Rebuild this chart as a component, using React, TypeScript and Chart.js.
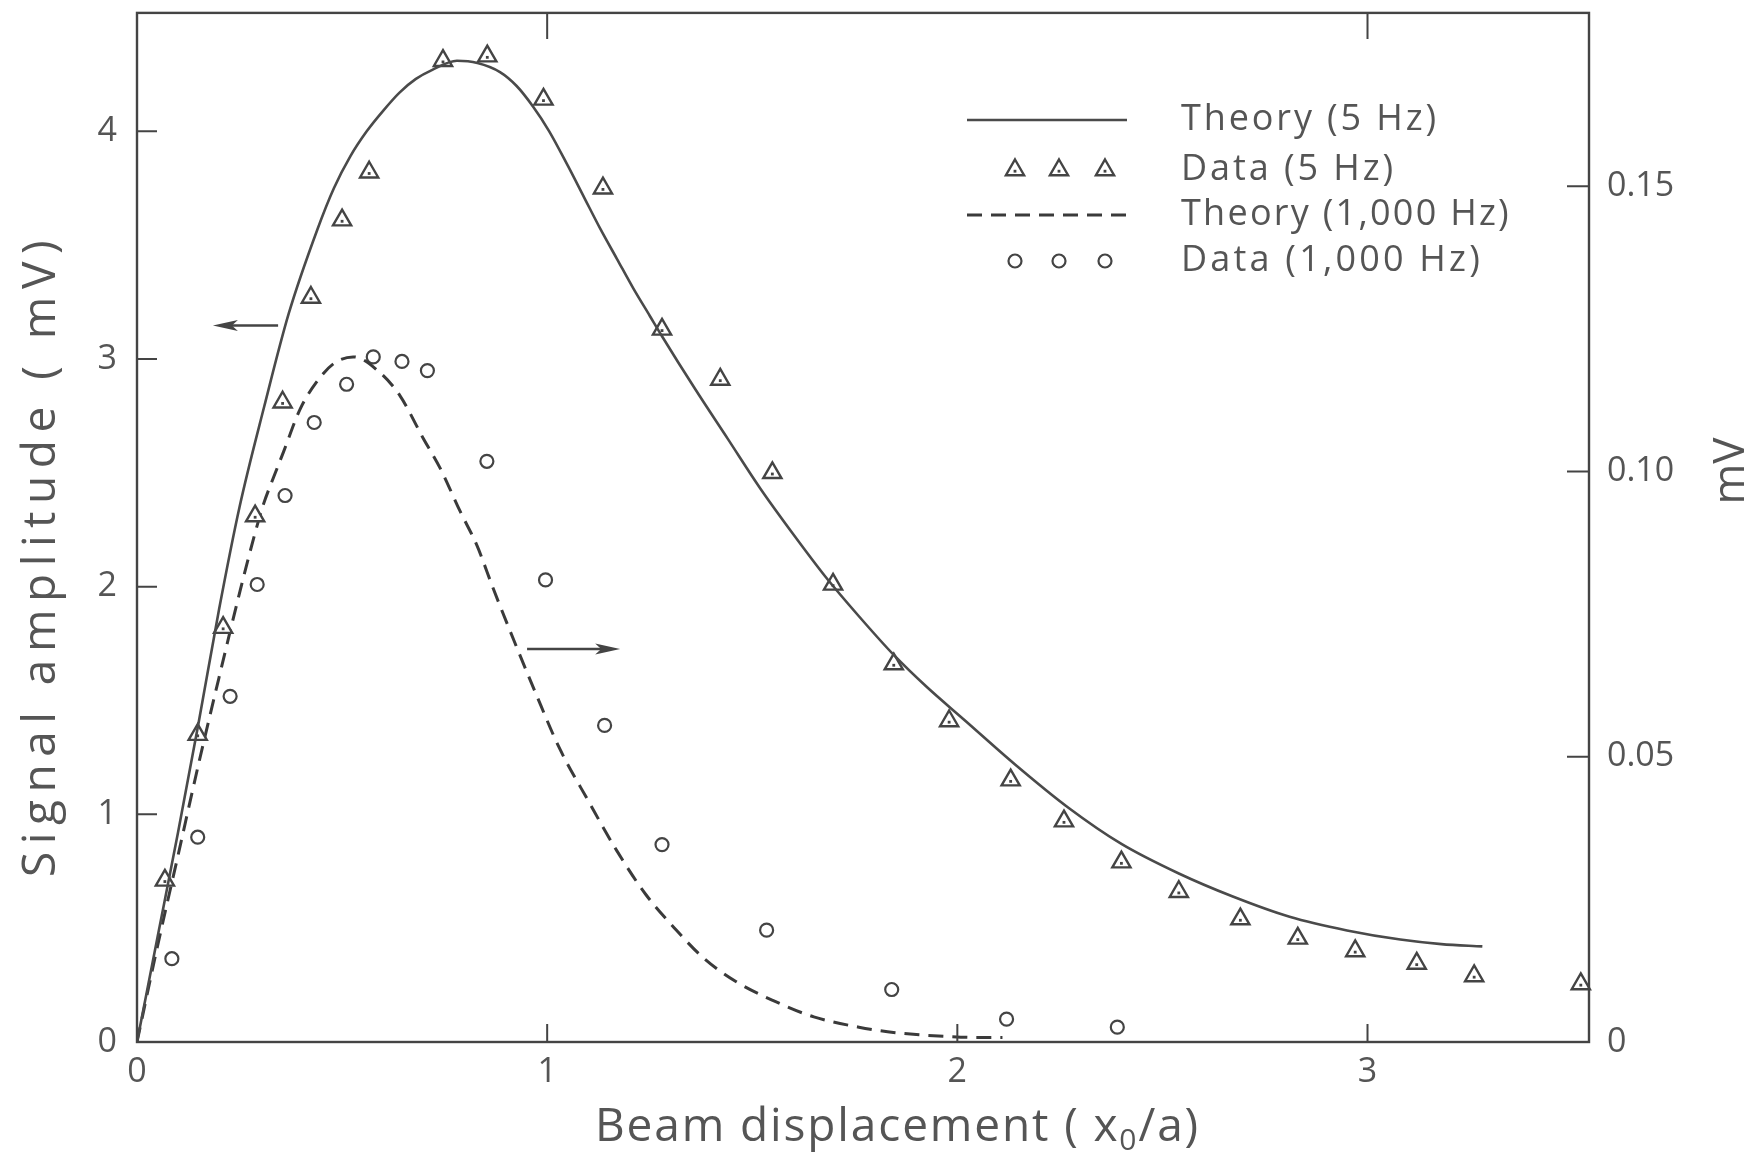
import { useEffect, useRef } from 'react';
import { Chart, registerables } from 'chart.js';

Chart.register(...registerables);

// ---------- data (x = beam displacement x0/a) ----------
// Theory 5 Hz (left axis, mV)
const theory5HzX = [0, 0.05, 0.10, 0.15, 0.20, 0.25, 0.31, 0.37, 0.44, 0.48, 0.52, 0.56, 0.60, 0.64, 0.68, 0.72, 0.78, 0.83, 0.885, 0.925, 0.965, 1.005, 1.05, 1.09, 1.13, 1.17, 1.21, 1.25, 1.28, 1.36, 1.44, 1.52, 1.60, 1.68, 1.76, 1.845, 1.925, 2.02, 2.14, 2.27, 2.40, 2.54, 2.67, 2.81, 2.95, 3.08, 3.18, 3.28];
const theory5HzY = [0, 0.46, 0.92, 1.40, 1.90, 2.35, 2.79, 3.20, 3.57, 3.75, 3.89, 4.00, 4.09, 4.17, 4.23, 4.27, 4.31, 4.30, 4.26, 4.20, 4.11, 4.00, 3.85, 3.71, 3.57, 3.44, 3.31, 3.19, 3.10, 2.87, 2.65, 2.43, 2.23, 2.04, 1.87, 1.70, 1.56, 1.41, 1.22, 1.03, 0.87, 0.74, 0.64, 0.55, 0.49, 0.45, 0.43, 0.42];

// Data 5 Hz (left axis, mV)
const data5HzX = [0.068, 0.148, 0.21, 0.288, 0.355, 0.424, 0.50, 0.566, 0.746, 0.854, 0.991, 1.136, 1.28, 1.422, 1.549, 1.697, 1.845, 1.98, 2.13, 2.26, 2.40, 2.54, 2.69, 2.83, 2.97, 3.12, 3.26, 3.52];
const data5HzY = [0.71, 1.35, 1.82, 2.31, 2.81, 3.27, 3.61, 3.82, 4.31, 4.33, 4.14, 3.75, 3.13, 2.91, 2.50, 2.01, 1.66, 1.41, 1.15, 0.97, 0.79, 0.66, 0.54, 0.455, 0.40, 0.345, 0.29, 0.255];

// Theory 1,000 Hz (right axis, mV)
const theory1kHzX = [0, 0.05, 0.10, 0.15, 0.20, 0.251, 0.284, 0.308, 0.333, 0.357, 0.398, 0.438, 0.479, 0.527, 0.593, 0.641, 0.698, 0.739, 0.788, 0.829, 0.869, 0.92, 0.97, 1.03, 1.10, 1.17, 1.24, 1.31, 1.38, 1.46, 1.55, 1.65, 1.76, 1.83, 1.90, 1.97, 2.05, 2.11];
const theory1kHzY = [0, 0.0168, 0.0327, 0.0487, 0.0639, 0.0790, 0.0882, 0.0942, 0.0990, 0.1034, 0.1110, 0.1157, 0.1189, 0.1201, 0.1173, 0.1133, 0.1058, 0.1006, 0.0930, 0.0870, 0.0794, 0.0702, 0.0615, 0.0515, 0.0423, 0.0335, 0.0259, 0.0200, 0.0148, 0.0106, 0.0073, 0.0044, 0.0026, 0.0018, 0.0013, 0.0010, 0.0008, 0.0008];

// Data 1,000 Hz (right axis, mV)
const data1kHzX = [0.085, 0.148, 0.227, 0.293, 0.361, 0.432, 0.511, 0.576, 0.646, 0.708, 0.853, 0.996, 1.14, 1.28, 1.535, 1.84, 2.12, 2.39];
const data1kHzY = [0.0146, 0.0359, 0.0606, 0.0802, 0.0958, 0.1086, 0.1153, 0.1201, 0.1193, 0.1177, 0.1018, 0.0810, 0.0555, 0.0346, 0.0196, 0.0092, 0.0040, 0.0026];

const seriesLabels = ['Theory (5 Hz)', 'Data (5 Hz)', 'Theory (1,000 Hz)', 'Data (1,000 Hz)'];

// axes
const xTickValues = [0, 1, 2, 3];
const xTopTickValues = [1, 3];
const leftTickValues = [0, 1, 2, 3, 4];
const rightTickValues = [0, 0.05, 0.10, 0.15];
const rightTickLabels = ['0', '0.05', '0.10', '0.15'];
const X_MAX = 3.54;
const LEFT_MAX = 4.52;
const RIGHT_MAX = 0.1804;

// arrows (x0/a, left-axis mV)
const arrowFromX = [0.344, 0.951];
const arrowToX = [0.185, 1.178];
const arrowY = [3.147, 1.726];

const xTitleParts = ['Beam displacement ( x', '0', '/a)'];
const yTitle = 'Signal amplitude ( mV)';
const y1Title = 'mV';

// ---------- styling ----------
const FONT = "'Open Sans', 'DejaVu Sans', sans-serif";
const INK = '#444';
const TEXT = '#555';

const pts = (xs: number[], ys: number[]) => xs.map((x, i) => ({ x, y: ys[i] }));

function fitText(ctx: CanvasRenderingContext2D, text: string, target: number) {
  (ctx as any).letterSpacing = '0px';
  const w = ctx.measureText(text).width;
  const ls = Math.max(0, (target - w) / Math.max(1, text.length));
  (ctx as any).letterSpacing = ls + 'px';
}

const decorPlugin = {
  id: 'decor',
  afterDatasetsDraw(chart: any) {
    const { ctx } = chart;
    const meta = chart.getDatasetMeta(1);
    ctx.save();
    ctx.fillStyle = INK;
    meta.data.forEach((p: any) => {
      ctx.fillRect(p.x - 1.4, p.y - 0.2, 2.8, 2.8);
    });
    ctx.restore();
  },
  afterDraw(chart: any) {
    const { ctx, chartArea: a, scales } = chart;
    const sx = scales.x, sy = scales.y, sy1 = scales.y1;
    ctx.save();
    // frame
    ctx.strokeStyle = INK;
    ctx.lineWidth = 2.4;
    ctx.strokeRect(a.left, a.top, a.right - a.left, a.bottom - a.top);
    ctx.lineWidth = 2;
    ctx.beginPath();
    leftTickValues.forEach((v) => {
      if (v === 0) return;
      const y = sy.getPixelForValue(v);
      ctx.moveTo(a.left, y); ctx.lineTo(a.left + 20, y);
    });
    rightTickValues.forEach((v) => {
      if (v === 0) return;
      const y = sy1.getPixelForValue(v);
      ctx.moveTo(a.right, y); ctx.lineTo(a.right - 22, y);
    });
    xTickValues.forEach((v) => {
      if (v === 0) return;
      const x = sx.getPixelForValue(v);
      ctx.moveTo(x, a.bottom); ctx.lineTo(x, a.bottom - 18);
    });
    xTopTickValues.forEach((v) => {
      const x = sx.getPixelForValue(v);
      ctx.moveTo(x, a.top); ctx.lineTo(x, a.top + 26);
    });
    ctx.stroke();

    // arrows
    ctx.fillStyle = INK;
    arrowY.forEach((yv, i) => {
      const y = sy.getPixelForValue(yv);
      const x0 = sx.getPixelForValue(arrowFromX[i]);
      const x1 = sx.getPixelForValue(arrowToX[i]);
      const dir = Math.sign(x1 - x0);
      ctx.beginPath();
      ctx.lineWidth = 2.4;
      ctx.moveTo(x0, y); ctx.lineTo(x1 - dir * 16, y);
      ctx.stroke();
      ctx.beginPath();
      ctx.moveTo(x1, y);
      ctx.lineTo(x1 - dir * 25, y - 5.5);
      ctx.lineTo(x1 - dir * 19, y);
      ctx.lineTo(x1 - dir * 25, y + 5.5);
      ctx.closePath();
      ctx.fill();
    });

    // legend
    const rows = [120, 170, 215, 261];
    const sampleL = 967, sampleR = 1127;
    const markerXs = [1015, 1059, 1105];
    const labelWidths = [258, 215, 330, 302];
    chart.data.datasets.forEach((ds: any, i: number) => {
      const y = rows[i];
      ctx.save();
      if (ds.showLine !== false && ds.pointRadius === 0) {
        ctx.strokeStyle = ds.borderColor;
        ctx.lineWidth = ds.borderWidth;
        ctx.setLineDash(ds.borderDash || []);
        ctx.beginPath();
        ctx.moveTo(sampleL, y); ctx.lineTo(sampleR, y);
        ctx.stroke();
      } else {
        ctx.strokeStyle = ds.pointBorderColor;
        ctx.fillStyle = ds.pointBackgroundColor;
        ctx.lineWidth = ds.pointBorderWidth;
        markerXs.forEach((mx) => {
          ctx.beginPath();
          if (ds.pointStyle === 'triangle') {
            const r = ds.pointRadius;
            ctx.moveTo(mx, y - r);
            ctx.lineTo(mx + r * Math.sin(2 * Math.PI / 3), y + r / 2);
            ctx.lineTo(mx - r * Math.sin(2 * Math.PI / 3), y + r / 2);
            ctx.closePath();
            ctx.fill(); ctx.stroke();
            ctx.fillStyle = INK;
            ctx.fillRect(mx - 1.4, y - 0.2, 2.8, 2.8);
            ctx.fillStyle = ds.pointBackgroundColor;
          } else {
            ctx.arc(mx, y, ds.pointRadius, 0, Math.PI * 2);
            ctx.fill(); ctx.stroke();
          }
        });
      }
      ctx.restore();
      ctx.save();
      ctx.fillStyle = TEXT;
      ctx.font = `36px ${FONT}`;
      ctx.textAlign = 'left';
      ctx.textBaseline = 'middle';
      fitText(ctx, ds.label, labelWidths[i]);
      ctx.fillText(ds.label, 1181, y);
      ctx.restore();
    });

    // x title with subscript
    ctx.save();
    ctx.fillStyle = TEXT;
    ctx.textAlign = 'left';
    ctx.textBaseline = 'alphabetic';
    const big = `46px ${FONT}`, small = `30px ${FONT}`;
    ctx.font = big;
    (ctx as any).letterSpacing = '0px';
    const w0 = ctx.measureText(xTitleParts[0]).width + ctx.measureText(xTitleParts[2]).width;
    ctx.font = small;
    const w1 = ctx.measureText(xTitleParts[1]).width;
    const nChars = xTitleParts.join('').length;
    const ls = Math.max(0, (605 - w0 - w1) / nChars);
    (ctx as any).letterSpacing = ls + 'px';
    let cx = 595;
    const base = 1141;
    ctx.font = big;
    ctx.fillText(xTitleParts[0], cx, base);
    cx += ctx.measureText(xTitleParts[0]).width;
    ctx.font = small;
    ctx.fillText(xTitleParts[1], cx, base + 9);
    cx += ctx.measureText(xTitleParts[1]).width;
    ctx.font = big;
    ctx.fillText(xTitleParts[2], cx, base);
    ctx.restore();

    // left y title
    ctx.save();
    ctx.fillStyle = TEXT;
    ctx.translate(42, 555);
    ctx.rotate(-Math.PI / 2);
    ctx.font = `46px ${FONT}`;
    ctx.textAlign = 'center';
    ctx.textBaseline = 'middle';
    fitText(ctx, yTitle, 644);
    ctx.fillText(yTitle, 0, 0);
    ctx.restore();

    // right y title
    ctx.save();
    ctx.fillStyle = TEXT;
    ctx.translate(1731, 471);
    ctx.rotate(-Math.PI / 2);
    ctx.font = `44px ${FONT}`;
    ctx.textAlign = 'center';
    ctx.textBaseline = 'middle';
    fitText(ctx, y1Title, 60);
    ctx.fillText(y1Title, 0, 0);
    ctx.restore();

    ctx.restore();
  },
};

const zeroPad = (s: any) => {
  s.paddingTop = 0;
  s.paddingBottom = 0;
  s.paddingLeft = 0;
  s.paddingRight = 0;
};

export default function App() {
  const ref = useRef<HTMLCanvasElement | null>(null);
  useEffect(() => {
    if (!ref.current) return;
    const tickFont = { family: FONT, size: 34 };
    const chart = new Chart(ref.current, {
      type: 'line',
      data: {
        datasets: [
          {
            label: seriesLabels[0],
            data: pts(theory5HzX, theory5HzY),
            yAxisID: 'y',
            borderColor: '#4a4a4a',
            borderWidth: 2.6,
            pointRadius: 0,
            cubicInterpolationMode: 'monotone',
            fill: false,
          },
          {
            label: seriesLabels[1],
            data: pts(data5HzX, data5HzY),
            yAxisID: 'y',
            showLine: false,
            pointStyle: 'triangle',
            pointRadius: 10.5,
            pointBorderWidth: 2.4,
            pointBorderColor: INK,
            pointBackgroundColor: '#ffffff',
            borderColor: INK,
            clip: false,
          },
          {
            label: seriesLabels[2],
            data: pts(theory1kHzX, theory1kHzY),
            yAxisID: 'y1',
            borderColor: '#3a3a3a',
            borderWidth: 3,
            borderDash: [15, 9],
            pointRadius: 0,
            cubicInterpolationMode: 'monotone',
            fill: false,
          },
          {
            label: seriesLabels[3],
            data: pts(data1kHzX, data1kHzY),
            yAxisID: 'y1',
            showLine: false,
            pointStyle: 'circle',
            pointRadius: 6.5,
            pointBorderWidth: 2.2,
            pointBorderColor: INK,
            pointBackgroundColor: '#ffffff',
            borderColor: INK,
          },
        ] as any,
      },
      options: {
        animation: false,
        responsive: false,
        devicePixelRatio: 1,
        layout: { padding: { top: 5, left: 0, right: 0, bottom: 0 } },
        plugins: {
          legend: { display: false },
          tooltip: { enabled: false },
          title: { display: false },
        },
        scales: {
          x: {
            type: 'linear',
            position: 'bottom',
            min: 0,
            max: X_MAX,
            grid: { display: false, drawTicks: false },
            border: { display: false },
            ticks: {
              font: tickFont,
              color: TEXT,
              padding: 10,
              maxRotation: 0,
              callback: (v: any) => String(v),
            },
            afterBuildTicks: (s: any) => {
              s.ticks = xTickValues.map((value) => ({ value }));
            },
            afterFit: (s: any) => {
              s.height = 117;
              zeroPad(s);
            },
          },
          y: {
            type: 'linear',
            position: 'left',
            min: 0,
            max: LEFT_MAX,
            grid: { display: false, drawTicks: false },
            border: { display: false },
            ticks: {
              font: tickFont,
              color: TEXT,
              padding: 20,
              callback: (v: any) => String(v),
            },
            afterBuildTicks: (s: any) => {
              s.ticks = leftTickValues.map((value) => ({ value }));
            },
            afterFit: (s: any) => {
              s.width = 137;
              zeroPad(s);
            },
          },
          y1: {
            type: 'linear',
            position: 'right',
            min: 0,
            max: RIGHT_MAX,
            grid: { display: false, drawTicks: false },
            border: { display: false },
            ticks: {
              font: tickFont,
              color: TEXT,
              padding: 18,
              callback: (v: any) => {
                const i = rightTickValues.findIndex((t) => Math.abs(t - v) < 1e-9);
                return i >= 0 ? rightTickLabels[i] : '';
              },
            },
            afterBuildTicks: (s: any) => {
              s.ticks = rightTickValues.map((value) => ({ value }));
            },
            afterFit: (s: any) => {
              s.width = 170;
              zeroPad(s);
            },
          },
        },
      } as any,
      plugins: [decorPlugin],
    });
    return () => chart.destroy();
  }, []);

  return (
    <div style={{ position: 'fixed', left: 0, top: 0, width: 1759, height: 1159, background: '#fff' }}>
      <canvas ref={ref} width={1759} height={1159} style={{ display: 'block' }} />
    </div>
  );
}
